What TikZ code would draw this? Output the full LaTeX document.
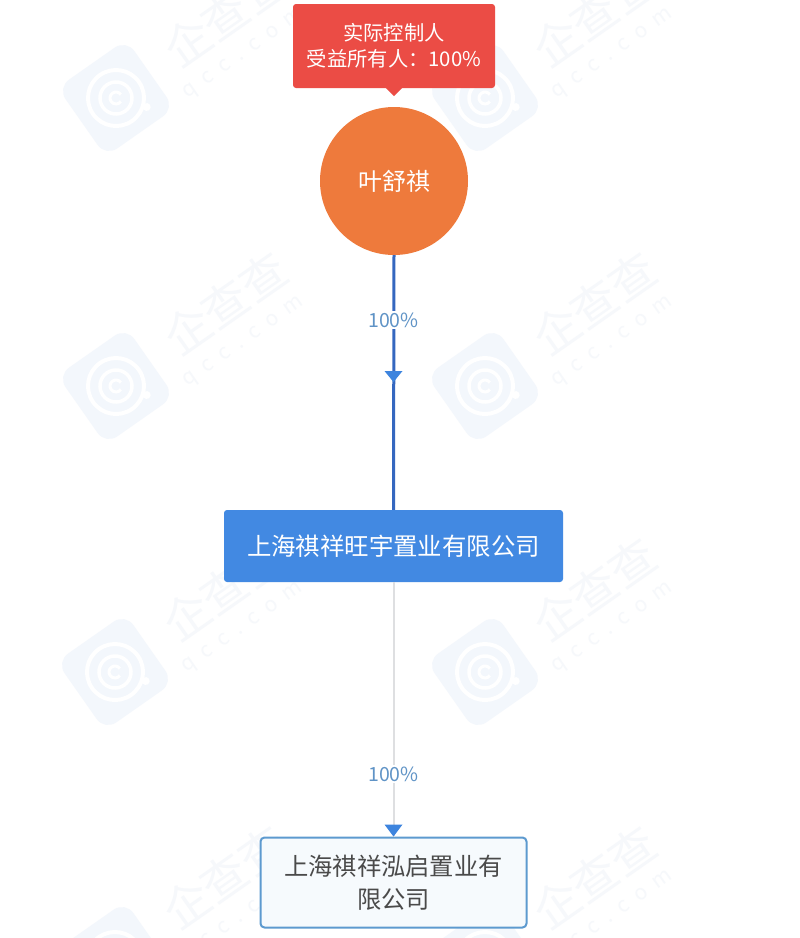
\documentclass[tikz,border=0pt]{standalone}
\usepackage{fontspec}
\setmainfont{Noto Sans CJK SC}
\usetikzlibrary{calc}
\definecolor{wmlogo}{HTML}{F3F7FC}
\definecolor{wmtext}{HTML}{F6F8FB}
\definecolor{redbox}{HTML}{EB4C45}
\definecolor{orangec}{HTML}{EE7A3C}
\definecolor{bluebox}{HTML}{4289E2}
\definecolor{bluetip}{HTML}{3D84DE}
\definecolor{blueline}{HTML}{3567BF}
\definecolor{greyline}{HTML}{DEDFE1}
\definecolor{pct}{HTML}{5F93C6}
\definecolor{leafline}{HTML}{5D9ACF}
\definecolor{leaffill}{HTML}{F6FAFD}
\definecolor{darktext}{HTML}{4A4A4A}
\tikzset{
  x=1pt,y=-1pt,
  redtag/.style={fill=redbox,rounded corners=3pt,minimum width=202pt,minimum height=84pt,inner sep=0pt,text=white,align=center,font=\fontsize{20.3}{26}\selectfont},
  person/.style={circle,fill=orangec,minimum size=148pt,inner sep=0pt,text=white,font=\fontsize{24}{30}\selectfont},
  midbox/.style={fill=bluebox,rounded corners=3pt,minimum width=339pt,minimum height=72pt,inner sep=0pt,text=white,font=\fontsize{24.4}{30}\selectfont},
  leafbox/.style={draw=leafline,line width=2pt,fill=leaffill,rounded corners=4pt,minimum width=266pt,minimum height=90pt,inner sep=0pt,text=darktext,align=center,font=\fontsize{24.3}{33}\selectfont},
  pctlabel/.style={fill=white,text=pct,inner sep=2pt,font=\fontsize{19.5}{22}\selectfont},
  ownline/.style={draw=blueline,line width=3pt},
  greyedge/.style={draw=greyline,line width=2pt},
  tiptri/.style={fill=bluetip},
  wmark/.pic={
    \begin{scope}[rotate=35]
      \fill[wmlogo,rounded corners=14pt] (-42,-42) rectangle (42,42);
      \draw[white,line width=4pt] (0,0) circle[radius=28pt];
      \draw[white,line width=3.5pt] (0,0) circle[radius=16pt];
      \draw[white,line width=3pt] (6,0) arc[start angle=0,end angle=290,radius=6pt];
      \fill[white] (20,25) circle[radius=4pt];
    \end{scope}
    \node[rotate=35,text=wmtext,font=\fontsize{46}{48}\selectfont,inner sep=0pt] at (109,-83) {企查查};
    \node[rotate=35,text=wmtext,font=\fontsize{21}{24}\selectfont,inner sep=0pt] at (128,-43) {q\hspace{10pt}c\hspace{10pt}c\hspace{10pt}.\hspace{10pt}c\hspace{10pt}o\hspace{10pt}m};
  }
}
\begin{document}
\begin{tikzpicture}
\useasboundingbox (0,0) rectangle (800,938);
\clip (0,0) rectangle (800,938);
\fill[white] (0,0) rectangle (800,938);
\pic at (116,98) {wmark};
\pic at (485,98) {wmark};
\pic at (116,386) {wmark};
\pic at (485,386) {wmark};
\pic at (115,672) {wmark};
\pic at (485,672) {wmark};
\pic at (115,960) {wmark};
\pic at (485,960) {wmark};

\node[redtag] (tag) at (394,46) {实际控制人\\受益所有人：100\%};
\coordinate (tagtip) at (394,96);
\fill[redbox] ($(tag.south)+(-9,-1)$) -- (tagtip) -- ($(tag.south)+(9,-1)$) -- cycle;
\node[person] (p) at (394,181) {叶舒祺};
\node[midbox] (mid) at (393.5,546) {上海祺祥旺宇置业有限公司};
\node[leafbox] (leaf) at (393.5,882.5) {上海祺祥泓启置业有\\限公司};

\draw[ownline] (p.south) -- (mid.north);
\draw[greyedge] (mid.south) -- (leaf.north);
\node[pctlabel] (l1) at (393.5,320) {100\%};
\node[pctlabel] (l2) at (393.5,774) {100\%};
\coordinate (t1) at (393.5,382);
\fill[tiptri] (t1) -- ++(-9,-11) -- ++(18,0) -- cycle;
\coordinate (t2) at (393.5,836.5);
\fill[tiptri] (t2) -- ++(-9,-12) -- ++(18,0) -- cycle;
\end{tikzpicture}
\end{document}
